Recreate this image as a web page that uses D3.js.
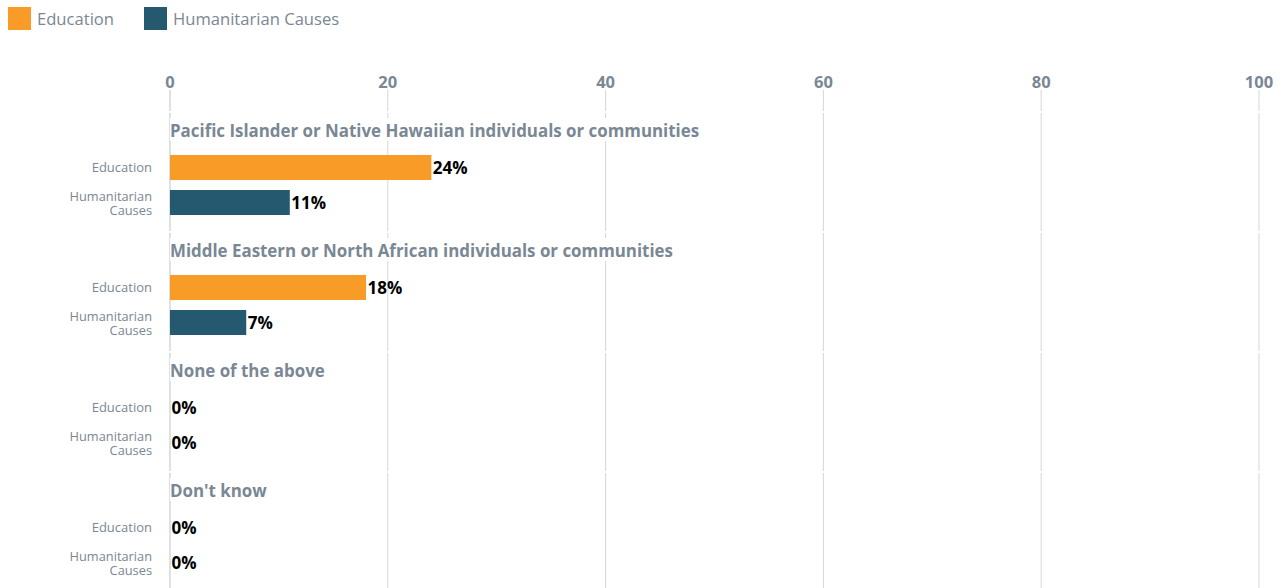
<!DOCTYPE html>
<html>
<head>
<meta charset="utf-8">
<script src="https://cdn.jsdelivr.net/npm/d3@7"></script>
<style>
  body { margin: 0; background: #fff; font-family: "Open Sans", "Noto Sans", sans-serif; }
</style>
</head>
<body>
<div id="the_chart"></div>
<script>
var groups = [
    "Pacific Islander or Native Hawaiian individuals or communities",
    "Middle Eastern or North African individuals or communities",
    "None of the above",
    "Don't know"
];
var seriesNames = ["Education", "Humanitarian Causes"];
var educationValues = [24, 18, 0, 0];
var humanitarianValues = [11, 7, 0, 0];
var tickValues = [0, 20, 40, 60, 80, 100];
var colors = ["#f89c27", "#245970"];

var w = 1283;
var h = 588;
var grey = "#7a8794";

var svg = d3.select("#the_chart")
    .append("svg")
    .attr("width", w)
    .attr("height", h)
    .style("font-family", "'Open Sans', 'Noto Sans', sans-serif");

var x = d3.scaleLinear().domain([0, 100]).range([170, 1259]);

var groupBand = d3.scaleBand().domain(d3.range(groups.length)).range([113, 593]).paddingInner(0);
var panelH = groupBand.bandwidth(); // 120

// legend
var legend = svg.selectAll(".legend")
    .data(seriesNames)
    .enter()
    .append("g")
    .attr("transform", function (d, i) { return "translate(" + (i === 0 ? 8 : 144) + ",7)"; });
legend.append("rect")
    .attr("width", 23).attr("height", 23)
    .attr("fill", function (d, i) { return colors[i]; });
legend.append("text")
    .attr("x", 29).attr("y", 18)
    .attr("font-size", 16.6).attr("fill", grey)
    .text(function (d) { return d; });

// tick labels and short top grid lines
svg.selectAll(".tick-label")
    .data(tickValues)
    .enter()
    .append("text")
    .attr("x", function (d) { return x(d); })
    .attr("y", 88)
    .attr("text-anchor", "middle")
    .attr("font-size", 16.5).attr("font-weight", "bold")
    .attr("fill", grey)
    .text(function (d) { return d; });

svg.selectAll(".tick-line")
    .data(tickValues)
    .enter()
    .append("line")
    .attr("x1", function (d) { return x(d); })
    .attr("x2", function (d) { return x(d); })
    .attr("y1", 90).attr("y2", 111)
    .attr("stroke", function (d) { return d === 0 ? "#b9c3cc" : "#d6d6d6"; })
    .attr("stroke-width", 1);

// panels
var panel = svg.selectAll(".panel")
    .data(groups)
    .enter()
    .append("g")
    .attr("transform", function (d, i) { return "translate(0," + groupBand(i) + ")"; });

panel.each(function (g, gi) {
    var p = d3.select(this);
    p.selectAll(".grid")
        .data(tickValues)
        .enter()
        .append("line")
        .attr("x1", function (d) { return x(d); })
        .attr("x2", function (d) { return x(d); })
        .attr("y1", 0).attr("y2", panelH - 2)
        .attr("stroke", function (d) { return d === 0 ? "#b9c3cc" : "#d6d6d6"; })
        .attr("stroke-width", 1);

    var bg = p.append("rect").attr("fill", "#fff");
    var title = p.append("text")
        .attr("x", 170).attr("y", 24)
        .attr("font-size", 16.9).attr("font-weight", "bold")
        .attr("fill", grey)
        .text(g);
    var bb = title.node().getBBox();
    bg.attr("x", bb.x).attr("y", 5).attr("width", bb.width + 2).attr("height", 23);

    var vals = [educationValues[gi], humanitarianValues[gi]];
    var rowY = [42, 77];

    p.selectAll(".bar")
        .data(vals)
        .enter()
        .append("rect")
        .attr("x", x(0))
        .attr("y", function (d, i) { return rowY[i]; })
        .attr("width", function (d) { return x(d) - x(0); })
        .attr("height", 25)
        .attr("fill", function (d, i) { return colors[i]; });

    p.selectAll(".val")
        .data(vals)
        .enter()
        .append("text")
        .attr("x", function (d) { return x(d) + 1.5; })
        .attr("y", function (d, i) { return rowY[i] + 18.5; })
        .attr("font-size", 17).attr("font-weight", "bold")
        .attr("fill", "#000")
        .text(function (d) { return d + "%"; });

    // row labels
    p.append("text")
        .attr("x", 152).attr("y", rowY[0] + 17)
        .attr("text-anchor", "end")
        .attr("font-size", 13).attr("fill", grey)
        .text(seriesNames[0]);
    var t2 = p.append("text")
        .attr("x", 152).attr("y", rowY[1] + 11)
        .attr("text-anchor", "end")
        .attr("font-size", 12.8).attr("fill", grey);
    t2.append("tspan").attr("x", 152).text("Humanitarian");
    t2.append("tspan").attr("x", 152).attr("dy", 13.6).text("Causes");
});
</script>
</body>
</html>
